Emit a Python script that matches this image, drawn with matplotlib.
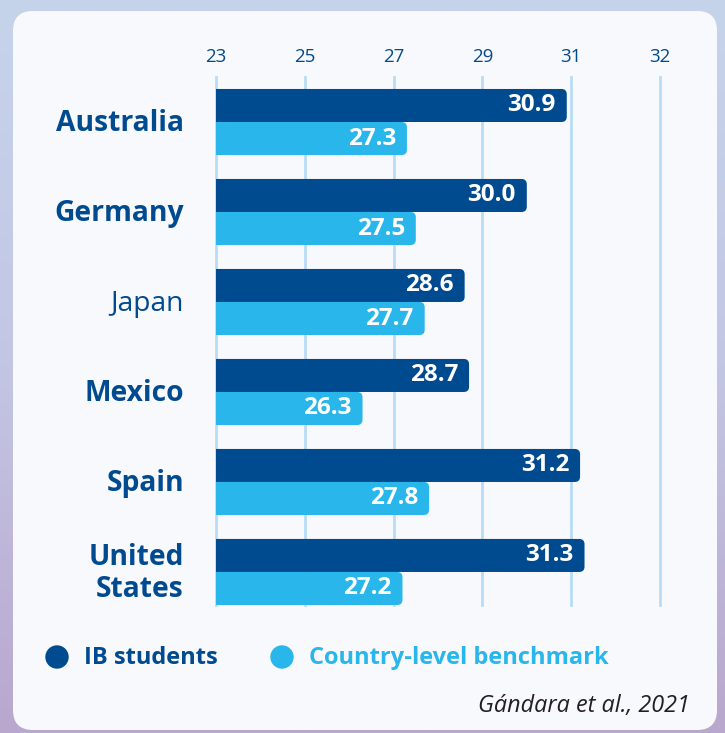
import matplotlib
matplotlib.use('Agg')
import matplotlib.pyplot as plt
import numpy as np
from matplotlib.patches import FancyBboxPatch, Circle
from matplotlib.colors import LinearSegmentedColormap
import matplotlib.transforms as mtransforms

# ---------------- data ----------------
countries = ["Australia", "Germany", "Japan", "Mexico", "Spain", "United\nStates"]
country_bold = [True, True, False, True, True, True]
ib_students = [30.9, 30.0, 28.6, 28.7, 31.2, 31.3]
benchmark = [27.3, 27.5, 27.7, 26.3, 27.8, 27.2]
tick_values = [23, 25, 27, 29, 31, 33]
tick_labels = ["23", "25", "27", "29", "31", "32"]
series_names = ["IB students", "Country-level benchmark"]
source = "Gándara et al., 2021"

# ---------------- style ----------------
DARK = "#004a8f"
LIGHT = "#29b6ea"
GRID = "#b8dcf5"
PANEL = "#f8f9fc"
FONT = ['Open Sans', 'DejaVu Sans']
plt.rcParams['font.family'] = FONT

W, H = 725, 733
fig = plt.figure(figsize=(W / 100, H / 100), dpi=100)

# background layer in pixel coordinates
bg = fig.add_axes([0, 0, 1, 1])
bg.set_xlim(0, W)
bg.set_ylim(H, 0)
bg.axis('off')
grad = np.linspace(0, 1, 256).reshape(-1, 1)
cmap = LinearSegmentedColormap.from_list('bg', ["#c6d4eb", "#c3c6e3", "#b9a7cd"])
bg.imshow(grad, cmap=cmap, extent=[0, W, H, 0], aspect='auto', zorder=0)
panel = FancyBboxPatch((13, 11), 704, 719, boxstyle="round,pad=0,rounding_size=20",
                       facecolor=PANEL, edgecolor='none', zorder=1)
bg.add_patch(panel)

# main chart axes
ax = fig.add_axes([216 / W, (H - 605) / H, 488.4 / W, 528 / H])
ax.set_xlim(23, 34)
bar_h = 0.367
ax.set_ylim(len(countries) - 1 + bar_h, -0.5)
ax.patch.set_visible(False)
for s in ax.spines.values():
    s.set_visible(False)

for t in tick_values:
    ax.axvline(t, color=GRID, lw=2, zorder=0.5, clip_on=False)

aspect = (ax.get_position().width * W / 11) / (ax.get_position().height * H / (len(countries) - 0.5 + bar_h))

def draw_bar(y0, v, color):
    p = FancyBboxPatch((22.0, y0), v - 22.0, bar_h,
                       boxstyle="round,pad=0,rounding_size=0.12",
                       mutation_aspect=aspect, facecolor=color, edgecolor='none', zorder=2)
    ax.add_patch(p)
    ax.annotate(f"{v:.1f}", xy=(v, y0 + bar_h / 2), xytext=(-11, 0), textcoords='offset pixels',
                ha='right', va='center', color='white', fontweight='bold', fontsize=17.5, zorder=3)

for i, (a, b) in enumerate(zip(ib_students, benchmark)):
    draw_bar(i - bar_h, a, DARK)
    draw_bar(i, b, LIGHT)

ax.set_xticks(tick_values, tick_labels)
ax.xaxis.tick_top()
ax.tick_params(axis='x', length=0, pad=8, labelcolor=DARK, labelsize=13.5)
ax.set_yticks([])

trans = mtransforms.blended_transform_factory(bg.transData, ax.transData)
for i, (c, bold) in enumerate(zip(countries, country_bold)):
    ax.text(184, i + 0.02, c, transform=trans, ha='right', va='center', color=DARK,
            fontsize=20.3, fontweight='bold' if bold else 'normal', linespacing=1.12)

# legend
bg.add_patch(Circle((57, 657), 11, color=DARK, zorder=2))
bg.text(84, 658, series_names[0], va='center', ha='left', color=DARK, fontsize=17,
        fontweight='bold', zorder=2)
bg.add_patch(Circle((282, 657), 11, color=LIGHT, zorder=2))
bg.text(309, 658, series_names[1], va='center', ha='left', color=LIGHT, fontsize=17,
        fontweight='bold', zorder=2)

bg.text(690, 712, source, ha='right', va='baseline', style='italic', color='#231f20',
        fontsize=16.8, zorder=2)

fig.savefig('out.png', dpi=100)
